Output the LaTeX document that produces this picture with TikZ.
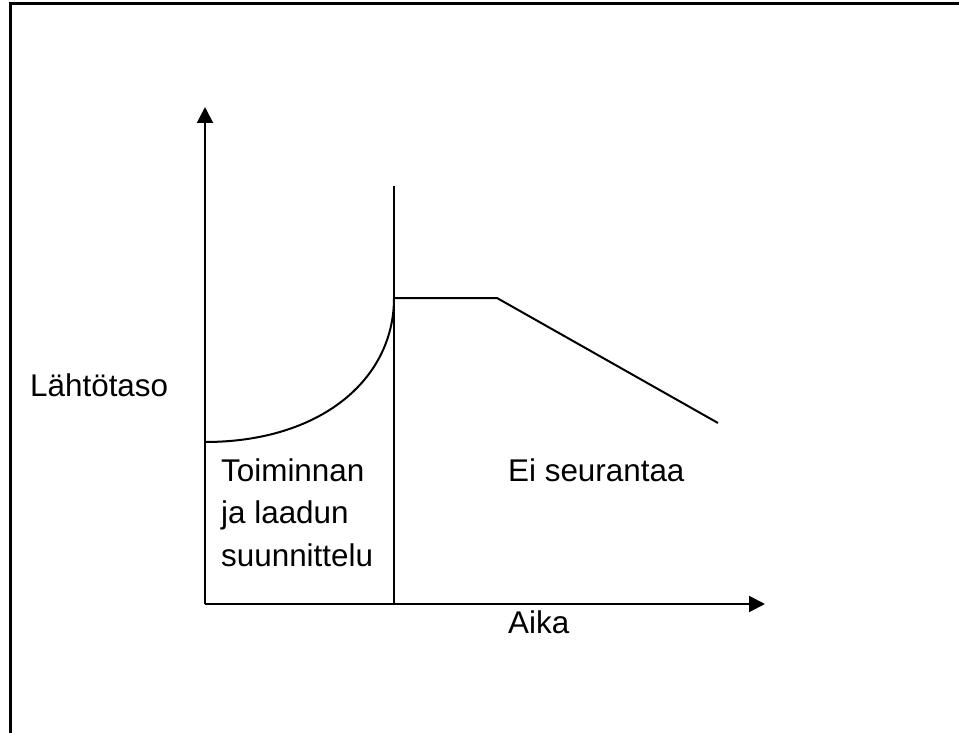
\documentclass[tikz,border=0pt]{standalone}
\usepackage{fontspec}
\setmainfont{Liberation Sans}
\usetikzlibrary{arrows.meta}
\begin{document}
\begin{tikzpicture}[x=1pt,y=-1pt,
  axis/.style={line width=2pt,-{Triangle[length=16pt,width=16pt]}},
  plot/.style={line width=2pt},
  frame/.style={line width=3pt},
  lbl/.style={anchor=base west,inner sep=0pt,font=\fontsize{31.4}{42.5}\selectfont,align=left}]
\useasboundingbox (0,0) rectangle (959,733);
% frame
\coordinate (fbl) at (10,733);
\coordinate (ftl) at (10,4);
\coordinate (ftr) at (959,4);
\draw[frame] (fbl) -- (ftl) -- (ftr);
% axes
\coordinate (O) at (205,604);
\coordinate (ytop) at (205,107);
\coordinate (xend) at (765,604);
\draw[axis] (O) -- (ytop);
\draw[axis] (O) -- (xend);
% divider
\coordinate (dtop) at (394,186);
\coordinate (dbot) at (394,604);
\draw[plot] (dbot) -- (dtop);
% curve and line
\coordinate (c0) at (205,442);
\coordinate (p1) at (394,298);
\coordinate (p2) at (497,298);
\coordinate (p3) at (718,423);
\draw[plot] (c0) .. controls (320,442) and (394,380) .. (p1) -- (p2) -- (p3);
% labels
\node[lbl] (ylab) at (30,396) {Lähtötaso};
\node[lbl] (xlab) at (508,633) {Aika};
\node[lbl] (left) at (221,566) {Toiminnan\\ja laadun\\suunnittelu};
\node[lbl] (right) at (508,481) {Ei seurantaa};
\end{tikzpicture}
\end{document}
